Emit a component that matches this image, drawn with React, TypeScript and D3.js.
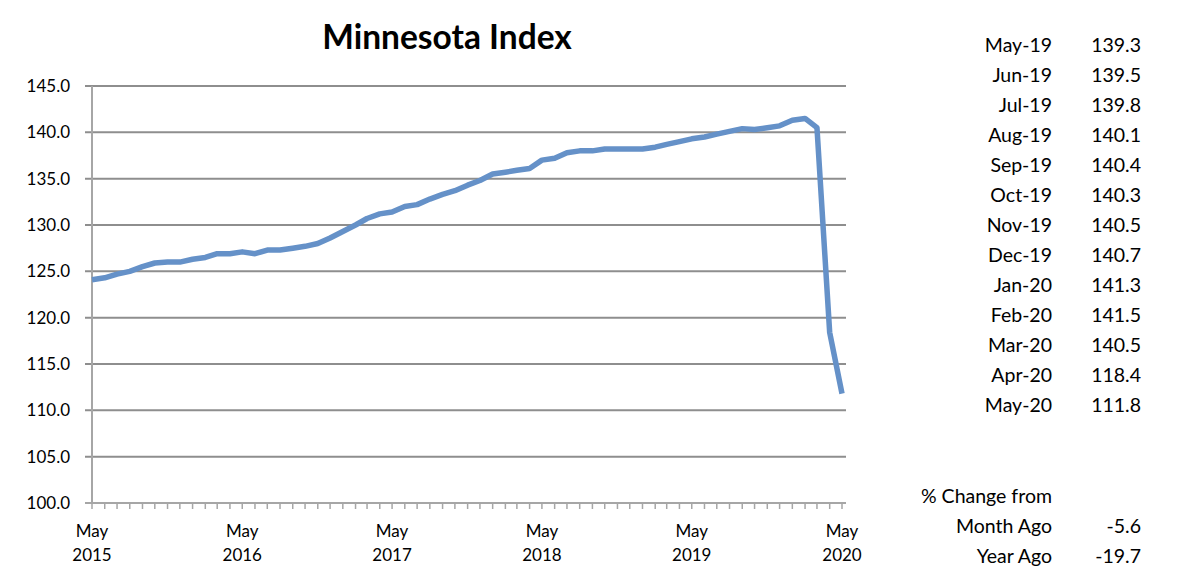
import * as d3 from 'd3';

// --- Data ---
const months = d3.range(61).map(i => new Date(2015, 4 + i, 1));

const indexValues = [
    124.1, 124.3, 124.7, 125.0, 125.5, 125.9, 126.0, 126.0, 126.3, 126.5, 126.9, 126.9,
    127.1, 126.9, 127.3, 127.3, 127.5, 127.7, 128.0, 128.6, 129.3, 130.0, 130.7, 131.2,
    131.4, 132.0, 132.2, 132.8, 133.3, 133.7, 134.3, 134.8, 135.5, 135.7, 135.9, 136.1,
    137.0, 137.2, 137.8, 138.0, 138.0, 138.2, 138.2, 138.2, 138.2, 138.4, 138.7, 139.0,
    139.3, 139.5, 139.8, 140.1, 140.4, 140.3, 140.5, 140.7, 141.3, 141.5, 140.5, 118.4,
    111.8,
];

const yTicks = [100, 105, 110, 115, 120, 125, 130, 135, 140, 145];
const xLabelYears = [2015, 2016, 2017, 2018, 2019, 2020];

const tableLabels = ['May-19', 'Jun-19', 'Jul-19', 'Aug-19', 'Sep-19', 'Oct-19', 'Nov-19',
    'Dec-19', 'Jan-20', 'Feb-20', 'Mar-20', 'Apr-20', 'May-20'];
const tableValues = ['139.3', '139.5', '139.8', '140.1', '140.4', '140.3', '140.5',
    '140.7', '141.3', '141.5', '140.5', '118.4', '111.8'];
const changeLabels = ['Month Ago', 'Year Ago'];
const changeValues = ['-5.6', '-19.7'];

const WIDTH = 1182;
const HEIGHT = 572;
const FONT = 'Lato, "Open Sans", sans-serif';

export default function App() {
    const x = d3.scaleTime()
        .domain([months[0], months[months.length - 1]])
        .range([92, 842]);
    const y = d3.scaleLinear().domain([100, 145]).range([503, 86]);

    const line = d3.line<number>()
        .x((_, i) => x(months[i]))
        .y(d => y(d))
        .curve(d3.curveLinear);

    const gridColor = '#8e8e8e';

    return (
        <svg width={WIDTH} height={HEIGHT}
             style={{ position: 'absolute', top: 0, left: 0, background: '#fff' }}
             fontFamily={FONT}>
            <text x={447} y={49} textAnchor="middle" fontSize={33.5} fontWeight="bold" fill="#000">
                Minnesota Index
            </text>

            {/* gridlines + y labels */}
            {yTicks.map(t => (
                <g key={t}>
                    {t !== 100 && (
                        <line x1={85} x2={846} y1={y(t)} y2={y(t)} stroke={gridColor} strokeWidth={2} />
                    )}
                    <text x={70} y={y(t)} dy="0.35em" textAnchor="end" fontSize={17} fill="#000">
                        {t.toFixed(1)}
                    </text>
                </g>
            ))}

            {/* axes */}
            <line x1={92} x2={92} y1={86} y2={504} stroke="#a6a6a6" strokeWidth={2} />
            <line x1={85} x2={846} y1={503} y2={503} stroke="#a6a6a6" strokeWidth={2} />
            {months.map((m, i) => (
                <line key={i} x1={x(m)} x2={x(m)} y1={503} y2={509} stroke="#a6a6a6" strokeWidth={1.5} />
            ))}
            {xLabelYears.map(yr => {
                const px = x(new Date(yr, 4, 1));
                return (
                    <g key={yr}>
                        <text x={px} y={537} textAnchor="middle" fontSize={17} fill="#000">May</text>
                        <text x={px} y={561} textAnchor="middle" fontSize={17} fill="#000">{yr}</text>
                    </g>
                );
            })}

            <path d={line(indexValues) || ''} fill="none" stroke="#6591c8" strokeWidth={5.5}
                  strokeLinejoin="round" />

            {/* side table */}
            {tableLabels.map((l, i) => (
                <g key={l} fontSize={19.5} fill="#000">
                    <text x={1052} y={52 + i * 30} textAnchor="end">{l}</text>
                    <text x={1141} y={52 + i * 30} textAnchor="end">{tableValues[i]}</text>
                </g>
            ))}
            <text x={1052} y={503} textAnchor="end" fontSize={19.5} fill="#000">% Change from</text>
            {changeLabels.map((l, i) => (
                <g key={l} fontSize={19.5} fill="#000">
                    <text x={1052} y={533 + i * 30} textAnchor="end">{l}</text>
                    <text x={1141} y={533 + i * 30} textAnchor="end">{changeValues[i]}</text>
                </g>
            ))}
        </svg>
    );
}
